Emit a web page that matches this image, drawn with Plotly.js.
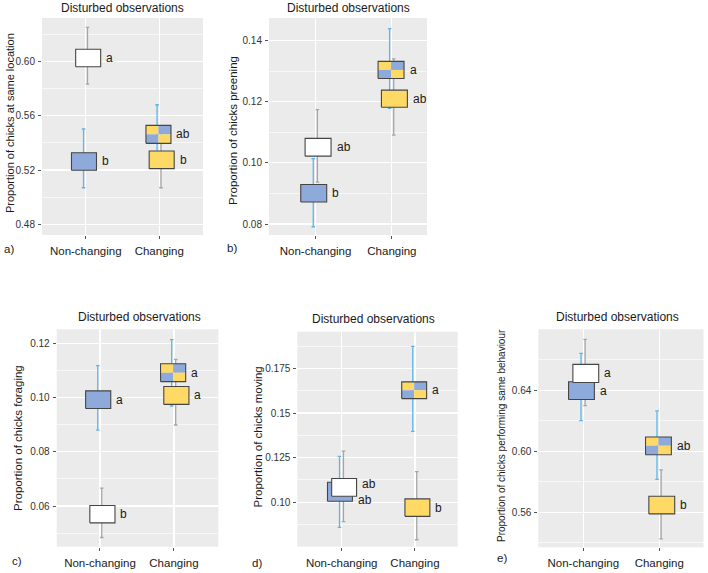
<!DOCTYPE html>
<html>
<head>
<meta charset="utf-8">
<script src="https://cdn.plot.ly/plotly-3.0.1.min.js"></script>
<style>html,body{margin:0;padding:0;background:#fff;}#chart{width:708px;height:573px;}</style>
</head>
<body>
<div id="chart"></div>
<script>
// ---------------- DATA ----------------
const categories = ["Non-changing", "Changing"];
const panelLetters = ["a)", "b)", "c)", "d)", "e)"];
const panelTitle = "Disturbed observations";
const yTitles = [
  "Proportion of chicks at same location",
  "Proportion of chicks preening",
  "Proportion of chicks foraging",
  "Proportion of chicks moving",
  "Proportion of chicks performing same behaviour"
];

// White boxes (Non-changing), grey whiskers
const whiteBoxLow   = [0.5963, 0.1022, 0.0538, 0.1034, 0.6450];
const whiteBoxHigh  = [0.6092, 0.1080, 0.0602, 0.1133, 0.6569];
const whiteBarLow   = [0.5835, 0.0937, 0.0484, 0.0891, 0.6299];
const whiteBarHigh  = [0.6254, 0.1174, 0.0666, 0.1287, 0.6733];
const whiteLetters  = ["a", "ab", "b", "ab", "a"];

// Blue boxes (Non-changing), blue whiskers
const blueBoxLow    = [0.5198, 0.0872, 0.0960, 0.1006, 0.6339];
const blueBoxHigh   = [0.5328, 0.0929, 0.1025, 0.1112, 0.6455];
const blueBarLow    = [0.5069, 0.0791, 0.0880, 0.0859, 0.6201];
const blueBarHigh   = [0.5503, 0.1014, 0.1118, 0.1257, 0.6641];
const blueLetters   = ["b", "b", "a", "ab", "a"];

// Checkered blue/yellow boxes (Changing), blue whiskers
const mixBoxLow     = [0.5397, 0.1276, 0.1059, 0.1581, 0.5977];
const mixBoxHigh    = [0.5530, 0.1332, 0.1125, 0.1675, 0.6093];
const mixBarLow     = [0.5245, 0.1178, 0.0969, 0.1397, 0.5815];
const mixBarHigh    = [0.5682, 0.1439, 0.1214, 0.1874, 0.6264];
const mixLetters    = ["ab", "a", "a", "a", "ab"];

// Yellow boxes (Changing), grey whiskers
const yellowBoxLow  = [0.5210, 0.1182, 0.0975, 0.0921, 0.5589];
const yellowBoxHigh = [0.5340, 0.1238, 0.1041, 0.1019, 0.5705];
const yellowBarLow  = [0.5069, 0.1091, 0.0899, 0.0790, 0.5425];
const yellowBarHigh = [0.5480, 0.1340, 0.1141, 0.1172, 0.5878];
const yellowLetters = ["b", "ab", "a", "b", "b"];

// Tick labels
const yTickVals = [
  [0.48, 0.52, 0.56, 0.60],
  [0.08, 0.10, 0.12, 0.14],
  [0.06, 0.08, 0.10, 0.12],
  [0.10, 0.125, 0.15, 0.175],
  [0.56, 0.60, 0.64]
];
const yTickText = [
  ["0.48", "0.52", "0.56", "0.60"],
  ["0.08", "0.10", "0.12", "0.14"],
  ["0.06", "0.08", "0.10", "0.12"],
  ["0.10", "0.125", "0.15", "0.175"],
  ["0.56", "0.60", "0.64"]
];
const yMinorVals = [
  [0.50, 0.54, 0.58, 0.62],
  [0.09, 0.11, 0.13],
  [0.05, 0.07, 0.09, 0.11],
  [0.0875, 0.1125, 0.1375, 0.1625, 0.1875],
  [0.54, 0.58, 0.62, 0.66]
];

// ---------------- STYLE / LAYOUT ----------------
const W = 708, H = 573;
const FONT = "Liberation Sans, Arial, sans-serif";
const frames = [
  {x0: 42,    x1: 203,   y0: 18,    y1: 235,   xr: [0.405, 2.595], yr: [0.472, 0.6323], tY: 8,   tX: 0,  ytX: 10,    ytY: 123, ytS: 11,   lX: 9,   lY: 249},
  {x0: 269,   x1: 427,   y0: 18,    y1: 235,   xr: [0.39, 2.46],   yr: [0.0764, 0.1474], tY: 8,  tX: 0,  ytX: 233,   ytY: 131, ytS: 11.5, lX: 232, lY: 248},
  {x0: 56.7,  x1: 218.3, y0: 329.3, y1: 546.7, xr: [0.415, 2.6],   yr: [0.045, 0.1252], tY: 317, tX: 2, ytX: 18,    ytY: 438, ytS: 11.5, lX: 17,  lY: 561},
  {x0: 297.3, x1: 457.7, y0: 331.7, y1: 546.7, xr: [0.394, 2.583], yr: [0.0751, 0.1956], tY: 319, tX: -4, ytX: 257.5, ytY: 437, ytS: 11.5, lX: 257, lY: 563},
  {x0: 538.3, x1: 703.5, y0: 329.3, y1: 547.3, xr: [0.408, 2.582], yr: [0.537, 0.6799], tY: 317, tX: -3, ytX: 501,  ytY: 436, ytS: 10,   lX: 502, lY: 558}
];
const COL = {blue: "#8eaadb", yellow: "#ffd966", white: "#ffffff", edge: "#454545",
             blueBar: "#5cb6ea", greyBar: "#a6a6a6", bg: "#ebebeb", text: "#1a1a1a"};
const HALF = 0.17;              // half box width (x units)
const OFF = {blue: -0.024, white: 0.033, mix: -0.011, yellow: 0.033, blueBar: -0.03, greyBar: 0.024};
const labelShift = {3: {white: 3, blue: -8}};

const px = p => p / W;
const py = p => 1 - p / H;

const traces = [];
const annotations = [];
const layout = {
  width: W, height: H, margin: {l: 0, r: 0, t: 0, b: 0},
  paper_bgcolor: "#fff", plot_bgcolor: COL.bg, showlegend: false,
  font: {family: FONT, color: COL.text}
};

function rect(xa, ya, cx, lo, hi, fill, edge, w0, w1) {
  const a = cx + (w0 === undefined ? -HALF : w0), b = cx + (w1 === undefined ? HALF : w1);
  return {
    type: "scatter", mode: "lines", xaxis: xa, yaxis: ya,
    x: [a, b, b, a, a], y: [lo, lo, hi, hi, lo],
    fill: "toself", fillcolor: fill,
    line: edge ? {color: edge, width: 1.1} : {width: 0, color: fill},
    hoverinfo: "skip"
  };
}

function whiskers(xa, ya, xs, lows, highs, color) {
  const mids = lows.map((l, k) => (l + highs[k]) / 2);
  return {
    type: "scatter", mode: "markers", xaxis: xa, yaxis: ya,
    x: xs, y: mids, marker: {size: 1, opacity: 0},
    error_y: {type: "data", symmetric: false,
      array: highs.map((h, k) => h - mids[k]),
      arrayminus: lows.map((l, k) => mids[k] - l),
      color: color, thickness: 1.3, width: 1.8},
    hoverinfo: "skip"
  };
}

frames.forEach((f, i) => {
  const s = i === 0 ? "" : String(i + 1);
  const xa = "x" + s, ya = "y" + s;
  const nc = 1, ch = 2;

  layout["xaxis" + s] = {
    domain: [px(f.x0), px(f.x1)], range: f.xr, anchor: ya,
    tickmode: "array", tickvals: [1, 2], ticktext: categories,
    ticks: "outside", ticklen: 3, tickwidth: 1, tickcolor: "#555",
    tickfont: {size: 11.5, family: FONT, color: COL.text}, ticklabelstandoff: 2,
    showgrid: true, gridcolor: "#ffffff", gridwidth: 1.2,
    zeroline: false, showline: false, fixedrange: true
  };
  layout["yaxis" + s] = {
    domain: [py(f.y1), py(f.y0)], range: f.yr, anchor: xa,
    tickmode: "array", tickvals: yTickVals[i], ticktext: yTickText[i],
    ticks: "outside", ticklen: 3, tickwidth: 1, tickcolor: "#555",
    tickfont: {size: 10, family: FONT, color: "#333"}, ticklabelstandoff: 1,
    showgrid: true, gridcolor: "#ffffff", gridwidth: 1.2,
    minor: {tickmode: "array", tickvals: yMinorVals[i], showgrid: true, gridcolor: "#ffffff", gridwidth: 0.6, ticks: ""},
    zeroline: false, showline: false, fixedrange: true
  };

  // whiskers (drawn first, beneath boxes)
  traces.push(whiskers(xa, ya, [nc + OFF.greyBar, ch + OFF.greyBar],
    [whiteBarLow[i], yellowBarLow[i]], [whiteBarHigh[i], yellowBarHigh[i]], COL.greyBar));
  traces.push(whiskers(xa, ya, [nc + OFF.blueBar, ch + OFF.blueBar],
    [blueBarLow[i], mixBarLow[i]], [blueBarHigh[i], mixBarHigh[i]], COL.blueBar));

  // boxes
  const cBlue = nc + OFF.blue, cWhite = nc + OFF.white, cMix = ch + OFF.mix, cYel = ch + OFF.yellow;
  traces.push(rect(xa, ya, cBlue, blueBoxLow[i], blueBoxHigh[i], COL.blue, COL.edge));
  traces.push(rect(xa, ya, cWhite, whiteBoxLow[i], whiteBoxHigh[i], COL.white, COL.edge));
  const mMid = (mixBoxLow[i] + mixBoxHigh[i]) / 2;
  traces.push(rect(xa, ya, cMix, mMid, mixBoxHigh[i], COL.yellow, null, -HALF, 0));
  traces.push(rect(xa, ya, cMix, mMid, mixBoxHigh[i], COL.blue, null, 0, HALF));
  traces.push(rect(xa, ya, cMix, mixBoxLow[i], mMid, COL.blue, null, -HALF, 0));
  traces.push(rect(xa, ya, cMix, mixBoxLow[i], mMid, COL.yellow, null, 0, HALF));
  const outline = rect(xa, ya, cMix, mixBoxLow[i], mixBoxHigh[i], COL.blue, COL.edge);
  outline.fill = "none";
  traces.push(outline);
  traces.push(rect(xa, ya, cYel, yellowBoxLow[i], yellowBoxHigh[i], COL.yellow, COL.edge));

  // letters
  const sh = labelShift[i] || {};
  const lab = (cx, lo, hi, txt, key) => annotations.push({
    xref: xa, yref: ya, x: cx + HALF, y: (lo + hi) / 2, text: txt,
    xanchor: "left", yanchor: "middle", xshift: 3.5, yshift: sh[key] || 0, showarrow: false,
    font: {size: 12, family: FONT, color: COL.text}
  });
  lab(cBlue, blueBoxLow[i], blueBoxHigh[i], blueLetters[i], "blue");
  lab(cWhite, whiteBoxLow[i], whiteBoxHigh[i], whiteLetters[i], "white");
  lab(cMix, mixBoxLow[i], mixBoxHigh[i], mixLetters[i], "mix");
  lab(cYel, yellowBoxLow[i], yellowBoxHigh[i], yellowLetters[i], "yellow");

  // panel title
  annotations.push({xref: "paper", yref: "paper", x: px((f.x0 + f.x1) / 2 + f.tX), y: py(f.tY),
    text: panelTitle, showarrow: false, xanchor: "center", yanchor: "middle",
    font: {size: 12, family: FONT, color: COL.text}});
  // y-axis title
  annotations.push({xref: "paper", yref: "paper", x: px(f.ytX), y: py(f.ytY),
    text: yTitles[i], textangle: -90, showarrow: false, xanchor: "center", yanchor: "middle",
    font: {size: f.ytS, family: FONT, color: COL.text}});
  // panel letter
  annotations.push({xref: "paper", yref: "paper", x: px(f.lX), y: py(f.lY),
    text: panelLetters[i], showarrow: false, xanchor: "center", yanchor: "middle",
    font: {size: 11.5, family: FONT, color: COL.text}});
});

layout.annotations = annotations;
Plotly.newPlot("chart", traces, layout, {staticPlot: true, displayModeBar: false});
</script>
</body>
</html>
